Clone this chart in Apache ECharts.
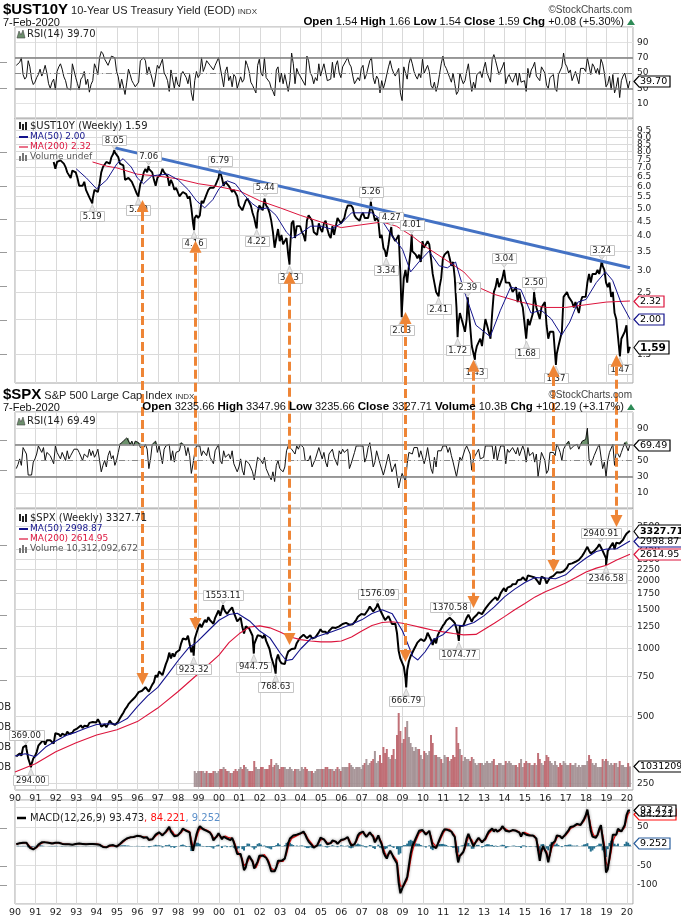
<!DOCTYPE html>
<html><head><meta charset="utf-8">
<script src="https://cdn.jsdelivr.net/npm/echarts@6/dist/echarts.min.js"></script>
<style>html,body{margin:0;padding:0;background:#fff}#c{width:681px;height:918px}</style>
</head><body><div id="c"></div>
<script>
// ---------------- DATA (monthly, read/estimated from the picture) ----------------
const spxClose = [
329,331,339,331,361,358,356,323,306,304,322,330,
344,367,375,375,390,371,388,395,388,392,375,417,
409,413,404,415,415,408,424,414,418,419,431,436,
439,443,452,440,450,451,448,464,459,468,462,466,
482,467,446,451,457,444,458,475,463,472,454,459,
470,487,501,515,533,545,562,562,584,582,605,616,
636,640,645,654,669,671,640,652,687,705,757,741,
786,791,757,801,848,885,954,899,947,915,955,970,
980,1049,1102,1112,1091,1134,1121,957,1017,1099,1164,1229,
1280,1238,1286,1335,1302,1373,1329,1320,1283,1363,1389,1469,
1394,1366,1499,1452,1421,1455,1431,1518,1437,1429,1315,1320,
1366,1240,1160,1249,1256,1224,1211,1134,1041,1060,1139,1148,
1130,1107,1147,1076,1067,990,912,916,815,886,936,880,
856,841,848,917,964,975,990,1008,996,1051,1058,1112,
1131,1145,1126,1107,1121,1141,1102,1104,1115,1130,1174,1212,
1181,1204,1181,1157,1192,1191,1234,1220,1229,1207,1249,1248,
1280,1281,1295,1311,1270,1270,1277,1304,1336,1378,1401,1418,
1438,1407,1421,1482,1531,1503,1455,1474,1527,1549,1481,1468,
1379,1331,1323,1386,1400,1280,1267,1283,1166,969,896,903,
826,735,798,873,919,919,987,1021,1057,1036,1096,1115,
1074,1104,1169,1187,1089,1031,1102,1049,1141,1183,1181,1258,
1286,1327,1326,1364,1345,1321,1292,1219,1131,1253,1247,1258,
1312,1366,1408,1398,1310,1362,1379,1407,1441,1412,1416,1426,
1498,1515,1569,1598,1631,1606,1686,1633,1682,1757,1806,1848,
1783,1859,1872,1884,1924,1960,1931,2003,1972,2018,2068,2059,
1995,2105,2068,2086,2107,2063,2104,1972,1920,2079,2080,2044,
1940,1932,2060,2065,2097,2099,2174,2171,2168,2126,2199,2239,
2279,2364,2363,2384,2412,2423,2470,2472,2519,2575,2648,2674,
2824,2714,2641,2648,2705,2718,2816,2902,2914,2712,2760,2507,
2704,2784,2834,2946,2752,2942,2980,2926,2977,3038,3141,3231,
3226,3327.71];

// weekly extremes labelled on the picture: [time, value, above?]
const spxExtremes = [
[1990.54,369.00,1],[1990.78,294.00,0],[1998.76,923.32,0],[2000.20,1553.11,1],
[2001.71,944.75,0],[2002.78,768.63,0],[2007.78,1576.09,1],[2009.18,666.79,0],
[2011.33,1370.58,1],[2011.76,1074.77,0],[2018.72,2940.91,1],[2018.98,2346.58,0]];

const spxMa50 = [[1990.0,330],[1990.5,338],[1991.0,328],[1991.5,362],[1992.0,385],[1992.5,408],[1993.0,422],[1993.5,440],[1994.0,456],[1994.5,460],[1995.0,458],[1995.5,485],[1996.0,548],[1996.5,612],[1997.0,668],[1997.5,765],[1998.0,880],[1998.5,1000],[1998.9,1060],[1999.5,1200],[2000.0,1330],[2000.5,1410],[2000.9,1430],[2001.5,1320],[2002.0,1190],[2002.5,1110],[2003.0,950],[2003.3,880],[2003.6,890],[2004.0,990],[2004.5,1100],[2005.0,1140],[2005.5,1180],[2006.0,1225],[2006.5,1275],[2007.0,1335],[2007.5,1425],[2008.0,1480],[2008.5,1420],[2009.0,1190],[2009.5,920],[2009.75,885],[2010.1,960],[2010.5,1090],[2011.0,1150],[2011.5,1270],[2012.0,1255],[2012.5,1300],[2013.0,1395],[2013.5,1525],[2014.0,1690],[2014.5,1830],[2015.0,1960],[2015.5,2060],[2016.0,2050],[2016.5,2035],[2017.0,2120],[2017.5,2330],[2018.0,2520],[2018.5,2690],[2019.0,2760],[2019.5,2770],[2020.15,2998.87]];

const spxMa200 = [[1990.0,280],[1991.0,305],[1992.0,345],[1993.0,378],[1994.0,410],[1995.0,432],[1996.0,470],[1997.0,540],[1998.0,640],[1999.0,770],[2000.0,930],[2000.5,1060],[2001.0,1160],[2001.5,1240],[2002.0,1255],[2002.5,1230],[2003.0,1180],[2003.5,1120],[2004.0,1090],[2004.5,1075],[2005.0,1065],[2005.5,1065],[2006.0,1075],[2006.5,1120],[2007.0,1190],[2007.5,1260],[2008.0,1300],[2008.5,1310],[2009.0,1290],[2009.5,1260],[2010.0,1230],[2010.5,1200],[2011.0,1180],[2011.5,1160],[2012.0,1145],[2012.6,1150],[2013.0,1210],[2013.5,1290],[2014.0,1380],[2014.5,1480],[2015.0,1580],[2015.5,1690],[2016.0,1780],[2016.5,1860],[2017.0,1950],[2017.5,2060],[2018.0,2180],[2018.5,2270],[2019.0,2340],[2019.5,2470],[2020.15,2614.95]];

// 10-year yield, monthly from Nov 1991
const ustStartMonth = 22;
const ustClose = [
7.3,6.9,
7.3,7.2,7.4,7.4,7.2,7.0,6.7,6.6,6.4,6.8,6.9,6.7,
6.4,6.0,6.0,6.0,6.2,5.8,5.8,5.45,5.4,5.4,5.8,5.8,
5.7,6.1,6.7,7.0,7.1,7.3,7.2,7.2,7.6,7.8,7.9,7.8,
7.6,7.2,7.2,7.1,6.3,6.2,6.4,6.3,6.2,6.0,5.8,5.6,
5.6,6.1,6.3,6.7,6.9,6.7,6.9,7.0,6.7,6.3,6.0,6.4,
6.5,6.6,6.9,6.7,6.7,6.5,6.0,6.3,6.1,5.8,5.9,5.7,
5.5,5.6,5.7,5.7,5.6,5.4,5.5,5.0,4.4,4.6,4.7,4.6,
4.7,5.3,5.2,5.4,5.6,5.8,5.9,5.9,5.9,6.0,6.2,6.4,
6.7,6.4,6.0,6.2,6.3,6.0,6.0,5.7,5.8,5.8,5.5,5.1,
5.1,4.9,4.9,5.3,5.4,5.4,5.1,4.8,4.6,4.3,4.8,5.1,
5.0,4.9,5.4,5.1,5.0,4.8,4.5,4.1,3.6,3.9,4.2,3.8,
4.0,3.7,3.8,3.9,3.4,3.5,4.4,4.5,3.9,4.3,4.3,4.3,
4.1,4.0,3.8,4.5,4.7,4.6,4.5,4.1,4.1,4.0,4.4,4.2,
4.1,4.4,4.5,4.2,4.0,3.9,4.3,4.0,4.3,4.6,4.5,4.4,
4.5,4.6,4.9,5.1,5.1,5.1,5.0,4.7,4.6,4.6,4.5,4.7,
4.8,4.6,4.6,4.6,4.9,5.0,4.8,4.5,4.6,4.5,3.9,4.0,
3.6,3.5,3.4,3.7,4.1,4.0,4.0,3.8,3.8,4.0,2.9,2.2,
2.8,3.0,2.7,3.1,3.5,3.5,3.5,3.4,3.3,3.4,3.2,3.8,
3.6,3.6,3.8,3.7,3.3,2.9,2.9,2.5,2.5,2.6,2.8,3.3,
3.4,3.4,3.5,3.3,3.1,3.2,2.8,2.2,1.9,2.1,2.1,1.9,
1.8,2.0,2.2,1.9,1.6,1.6,1.5,1.6,1.6,1.7,1.6,1.8,
2.0,1.9,1.9,1.7,2.1,2.5,2.6,2.8,2.6,2.6,2.8,3.0,
2.7,2.7,2.7,2.6,2.5,2.5,2.6,2.3,2.5,2.3,2.2,2.2,
1.7,2.0,1.9,2.0,2.1,2.4,2.2,2.2,2.0,2.2,2.2,2.3,
1.9,1.7,1.8,1.8,1.8,1.5,1.5,1.6,1.6,1.8,2.4,2.4,
2.5,2.4,2.4,2.3,2.2,2.3,2.3,2.1,2.3,2.4,2.4,2.4,
2.7,2.9,2.7,2.9,2.9,2.9,3.0,2.9,3.1,3.1,3.0,2.7,
2.6,2.7,2.4,2.5,2.1,2.0,2.0,1.5,1.7,1.7,1.8,1.9,
1.51,1.59];

const ustExtremes = [
[1993.79,5.19,0],[1994.87,8.05,1],[1996.05,5.49,0],[1996.55,7.06,1],[1998.78,4.16,0],
[2000.04,6.79,1],[2001.85,4.22,0],[2002.27,5.44,1],[2003.46,3.13,0],[2007.45,5.26,1],
[2008.20,3.34,0],[2008.45,4.27,1],[2008.96,2.03,0],[2009.45,4.01,1],[2010.77,2.41,0],
[2011.70,1.72,0],[2012.20,2.39,1],[2012.55,1.43,0],[2013.98,3.04,1],[2015.08,1.68,0],
[2015.45,2.50,1],[2016.52,1.37,0],[2018.77,3.24,1],[2019.66,1.47,0]];

const ustMa50 = [[1993.0,6.9],[1993.5,6.4],[1994.0,5.85],[1994.5,6.3],[1995.0,7.2],[1995.3,7.5],[1995.7,7.0],[1996.0,6.4],[1996.3,6.1],[1996.7,6.5],[1997.0,6.55],[1997.5,6.6],[1998.0,6.3],[1998.5,5.8],[1998.9,5.3],[1999.3,5.0],[1999.7,5.35],[2000.0,5.85],[2000.4,6.25],[2000.8,6.1],[2001.2,5.6],[2001.6,5.2],[2002.0,4.95],[2002.4,5.0],[2002.8,4.7],[2003.3,4.1],[2003.6,3.9],[2004.0,4.05],[2004.5,4.3],[2005.0,4.3],[2005.5,4.2],[2006.0,4.4],[2006.5,4.8],[2007.0,4.8],[2007.5,4.8],[2008.0,4.5],[2008.5,3.95],[2009.0,3.55],[2009.4,2.95],[2009.8,3.2],[2010.3,3.5],[2010.8,3.1],[2011.2,3.05],[2011.6,3.2],[2012.0,2.55],[2012.6,1.9],[2013.3,1.73],[2013.8,2.15],[2014.3,2.6],[2014.8,2.55],[2015.3,2.1],[2015.8,2.15],[2016.3,2.0],[2016.8,1.75],[2017.2,1.95],[2017.6,2.3],[2018.0,2.35],[2018.5,2.7],[2018.95,2.95],[2019.3,2.75],[2019.7,2.3],[2020.15,2.00]];

const ustMa200 = [[1993.8,7.3],[1994.5,7.05],[1995.0,6.95],[1996.0,6.6],[1997.0,6.5],[1998.0,6.35],[1999.0,6.1],[2000.0,5.95],[2001.0,5.75],[2002.0,5.3],[2003.0,5.0],[2004.0,4.7],[2005.0,4.45],[2006.0,4.25],[2007.0,4.35],[2008.0,4.45],[2008.7,4.3],[2009.5,3.95],[2010.2,3.6],[2011.0,3.3],[2012.0,2.95],[2012.7,2.6],[2013.5,2.45],[2014.8,2.3],[2016.0,2.2],[2017.0,2.2],[2018.0,2.25],[2019.0,2.3],[2020.15,2.32]];

const rsiUst = [
60,62,64,70,48,42,45,66,58,42,35,38,
44,48,55,46,52,60,50,36,30,38,42,28,
52,58,62,55,45,40,30,32,28,62,60,44,
36,28,42,45,52,35,42,25,35,40,62,56,
48,70,78,75,68,70,60,58,72,74,70,52,
45,30,42,40,22,38,55,48,40,36,32,30,
38,66,65,70,66,48,58,60,42,32,34,60,
56,54,68,50,46,40,26,54,42,30,45,35,
32,48,52,50,44,36,48,24,14,40,52,44,
48,70,52,58,66,68,60,58,54,60,62,70,
72,45,32,52,58,40,46,32,48,45,30,28,
45,38,42,66,60,52,38,34,32,24,60,68,
50,46,70,44,42,38,30,26,20,54,58,38,
50,36,48,50,26,40,76,62,36,56,50,48,
42,40,34,72,66,50,46,36,44,40,62,46,
46,62,60,40,38,42,64,44,60,66,50,44,
58,60,66,70,62,58,46,36,38,44,40,56,
60,42,48,50,66,70,44,36,46,42,24,40,
30,38,36,58,66,56,50,46,44,56,24,14,
58,60,42,62,70,62,52,46,42,50,44,68,
50,48,60,52,34,30,38,26,34,48,62,72,
60,56,58,44,38,50,36,22,26,50,42,36,
40,52,62,42,26,38,30,48,50,52,44,56,
64,50,48,38,68,74,66,68,48,46,58,64,
36,44,48,42,38,44,50,34,50,38,40,40,
26,56,44,54,58,64,46,46,40,58,54,50,
34,30,44,46,48,30,26,48,46,58,76,62,
58,50,54,40,42,52,52,36,56,58,56,52,
70,68,48,62,58,50,56,48,68,62,50,32,
36,46,28,48,24,32,44,18,40,46,50,48,
30,39.70];

const rsiSpx = [
40,45,52,44,66,62,58,32,30,32,48,52,
58,68,66,60,66,50,60,62,56,58,46,68,
60,62,52,60,58,50,62,52,56,56,64,66,
64,60,62,50,58,56,54,64,56,62,54,58,
64,50,36,44,50,42,56,62,52,56,44,50,
60,70,72,74,76,78,78,70,74,68,74,76,
72,66,64,66,70,64,40,52,70,70,74,60,
68,66,46,64,68,69,70,50,62,48,60,60,
62,72,74,68,56,66,56,34,46,60,68,70,
68,56,62,64,56,66,54,52,46,62,64,70,
50,46,62,54,52,58,52,62,46,46,36,42,
52,38,32,50,50,46,44,36,26,40,54,54,
50,46,54,40,40,30,26,36,24,44,50,40,
38,36,42,62,68,66,64,66,58,68,64,70,
68,66,50,48,50,56,42,44,52,54,66,68,
52,60,48,42,58,56,64,54,56,44,62,58,
64,60,62,64,40,46,48,60,68,69,68,69,
68,48,54,66,72,58,42,48,62,64,46,48,
32,40,38,58,56,36,38,46,30,16,26,34,
36,24,46,60,62,58,66,64,66,54,62,62,
46,54,66,66,40,34,54,42,62,64,62,68,
68,68,60,66,56,48,46,30,28,54,50,52,
64,68,68,58,38,52,56,60,64,52,52,54,
68,66,68,66,68,52,68,50,60,68,69,68,
46,64,60,60,66,68,58,66,56,58,68,62,
48,66,56,58,60,48,58,30,32,60,58,50,
34,38,60,58,60,56,70,66,60,50,64,68,
68,74,64,66,68,68,70,64,70,74,76,76,
90,52,44,50,56,56,66,70,68,40,48,30,
50,60,60,70,44,62,64,54,60,66,72,74,
62,69.49];

// weekly volume (billions), one bar per month from Oct 1998
const volStartMonth = 105;
const spxVolume = [
8,7,8,
8,8,8,7,8,7,7,7,8,8,7,8,
9,9,10,9,8,8,7,7,8,9,8,9,
10,9,11,10,9,8,8,8,13,10,9,9,
10,10,9,9,9,11,14,10,11,12,11,9,
10,10,10,9,9,10,9,8,9,9,9,8,
10,9,10,9,8,8,8,7,8,9,9,9,
9,9,10,10,9,9,9,8,9,10,9,8,
10,10,10,10,12,11,10,9,10,10,10,9,
11,12,14,11,12,13,14,18,12,13,16,12,
20,17,19,15,14,16,19,14,26,37,28,22,
24,30,33,25,22,20,18,20,19,19,16,14,
18,17,16,18,26,22,16,16,15,15,14,12,
16,15,15,13,14,16,15,30,22,19,16,13,
15,14,14,13,15,14,12,11,12,12,12,11,
12,13,12,12,13,14,11,11,12,12,11,11,
13,12,13,12,11,11,11,10,12,14,10,12,
13,12,12,11,11,12,11,17,14,12,11,13,
16,15,13,12,11,13,11,10,12,11,13,12,
11,11,12,11,11,12,10,11,10,11,11,11,
13,16,14,12,11,12,10,10,10,14,13,14,
13,11,12,11,12,12,10,13,11,11,10,10,
12,10.31];
const volTicks = [10,20,30,40];

const macd = [
5,8,8,6,9,10,9,2,-4,-8,-8,-6,
-2,4,8,10,11,10,10,9,8,7,6,9,
10,9,8,6,6,5,6,5,4,4,5,6,
7,7,7,6,6,5,5,6,5,6,5,5,
6,4,0,-2,-2,-3,-1,2,2,3,0,-1,
2,6,10,14,18,20,23,23,24,24,25,27,
28,26,24,22,24,23,16,14,18,22,30,32,
36,38,28,30,38,42,50,38,36,26,26,28,
30,38,46,48,40,40,36,5,-12,10,30,44,
52,48,44,46,40,38,35,28,15,18,26,34,
30,18,25,28,20,22,16,22,10,-5,-20,-25,
-20,-40,-62,-55,-35,-25,-30,-40,-58,-60,-40,-25,
-22,-24,-20,-30,-38,-50,-65,-62,-65,-55,-38,-35,
-38,-40,-32,-12,8,20,25,28,25,30,30,33,
37,38,30,20,12,10,2,-4,0,2,12,22,
20,18,12,5,5,8,15,15,12,6,10,16,
18,18,20,24,12,2,-2,5,15,28,34,36,
38,30,24,28,36,38,24,10,18,28,15,5,
-15,-25,-32,-20,-12,-20,-30,-25,-45,-95,-122,-110,
-100,-95,-80,-50,-20,0,10,20,30,40,42,42,
38,30,34,40,20,0,2,-5,6,18,28,38,
44,48,42,44,38,30,24,-15,-42,-25,-20,-15,
0,20,32,30,10,0,8,16,22,18,10,8,
20,30,38,40,46,38,44,38,38,44,52,56,
40,38,38,38,42,45,40,38,35,25,35,38,
30,32,28,26,28,26,20,-10,-38,-10,0,-2,
-20,-42,-20,5,10,14,28,30,26,20,22,30,
34,42,50,50,52,54,58,55,55,60,70,80,
95,70,40,25,20,22,30,45,55,20,-10,-68,
-60,-30,0,30,30,30,45,40,38,40,55,80,
92,93.473];

const lastValues = {ust:1.59, ustMa50:2.00, ustMa200:2.32, rsiUst:39.70, rsiSpx:69.49,
  spx:3327.71, spxMa50:2998.87, spxMa200:2614.95, vol:10.31, macd:93.473, signal:84.221, hist:9.252};

const ustTicks = [1.5,2.0,2.5,3.0,3.5,4.0,4.5,5.0,5.5,6.0,6.5,7.0,7.5,8.0,8.5,9.0,9.5];
const spxTicks = [250,500,750,1000,1250,1500,1750,2000,2250,2500,2750,3500];
// cut-off left-edge tick marks (pixel rows of the truncated left axes)
const leftTickRows = [62,88,152,186,219,252,286,320,354,440,470,545,580,615,648,680,828,866,885];

// arrows: [time, UST value at head, SPX value at head]
const arrows = [[1996.23,5.34,684],[1998.82,3.81,1203],[2003.43,2.95,1031],[2009.12,2.12,866],[2012.45,1.43,1507],[2016.37,1.37,2180],[2019.46,1.49,3458]];
const trendLine = [[1994.9,8.2],[2020.15,3.05]];

// ---------------- BUILD ----------------
function monthT(i){ return 1990 + (i + 0.75) / 12; }
function pairs(arr, start){ return arr.map((v,k)=>[monthT(start+k), v]); }
function merged(a, ex){ return a.concat(ex.map(e=>[e[0],e[1]])).sort((p,q)=>p[0]-q[0]); }
function yr(v){ const r=Math.round(v); if(Math.abs(v-r)>1e-6) return ''; return String(((r%100)+100)%100).padStart(2,'0'); }

const ustData = merged(pairs(ustClose, ustStartMonth), ustExtremes);
const spxData = merged(pairs(spxClose, 0), spxExtremes);

const chart = echarts.init(document.getElementById('c'));
const L = 15, R = 48;
const grids = [
  {left:L,right:R,top:27,height:92},
  {left:L,right:R,top:118,height:265},
  {left:L,right:R,top:412,height:97},
  {left:L,right:R,top:508,height:282},
  {left:L,right:R,top:699,height:88},
  {left:L,right:R,top:800,height:105}
];
const axFont = {fontFamily:'DejaVu Sans', fontSize:9, color:'#222'};
const rsiAxis = (g)=>({type:'value', gridIndex:g, min:-10, max:110, interval:20, position:'right',
  axisLine:{show:false}, axisTick:{show:false}, splitLine:{show:true, lineStyle:{color:'#e2e2e2'}},
  axisLabel:Object.assign({margin:4, formatter:v=>(v>=10&&v<=90)?String(v):''}, axFont)});
const hidden = (g,type,min,max)=>({type, gridIndex:g, min, max, position:'right', logBase:10,
  axisLine:{show:false}, axisTick:{show:false}, axisLabel:{show:false}, splitLine:{show:false}});

const rsiLines = {silent:true, symbol:['none','none'], label:{show:false}, animation:false,
  data:[{yAxis:70, lineStyle:{color:'#7c7c7c',width:1.5,type:'solid'}},
        {yAxis:30, lineStyle:{color:'#7c7c7c',width:1.5,type:'solid'}},
        {yAxis:50, lineStyle:{color:'#8a8a8a',width:1,type:[6,3,1,3]}}]};

// MACD signal = 9-week EMA of MACD (about 2 months here)
const alpha = 0.62;
const signal = []; macd.forEach((v,i)=>signal.push(i===0? v : signal[i-1] + alpha*(v - signal[i-1])));
const hist = macd.map((v,i)=>v - signal[i]);

const volData = spxVolume.map((v,k)=>{
  const i = volStartMonth + k;
  const down = spxClose[i] < spxClose[i-1];
  return {value:[monthT(i), v], itemStyle:{color: down ? 'rgba(186,96,104,0.9)' : 'rgba(160,140,143,0.9)'}};
});

const option = {
  animation:false, backgroundColor:'#fff',
  grid: grids.map((g,i)=>Object.assign({show:i!==4, borderColor:'#a4a4a4', borderWidth:1, backgroundColor:'rgba(0,0,0,0)'}, g)),
  xAxis: grids.map((g,i)=>({type:'value', gridIndex:i, min:1990, max:2020.3, interval:1,
    axisLine:{show:false}, axisTick:{show:false},
    axisLabel:Object.assign({show:(i===3||i===5), formatter:yr, margin:4}, axFont, {fontSize:9.5}),
    splitLine:{show:i!==4, lineStyle:{color:'#d9d9d9'}}})),
  yAxis: [
    rsiAxis(0),
    hidden(1,'log',1.18,10.49),
    rsiAxis(2),
    hidden(3,'log',233,4207),
    hidden(4,'value',0,44),
    {type:'value', gridIndex:5, min:-150, max:120, interval:50, position:'right',
      axisLine:{show:false}, axisTick:{show:false}, splitLine:{show:true, lineStyle:{color:'#dedede'}},
      axisLabel:Object.assign({margin:4, formatter:v=>(v>=-100&&v<=50)?String(v):''}, axFont)}
  ],
  series: [
    {type:'line', xAxisIndex:0, yAxisIndex:0, data:pairs(rsiUst,0), symbol:'none', lineStyle:{color:'#111',width:1}, z:3, markLine:rsiLines},
    {type:'line', xAxisIndex:1, yAxisIndex:1, data:ustData, symbol:'none', lineStyle:{color:'#000',width:1.9}, z:3},
    {type:'line', xAxisIndex:1, yAxisIndex:1, data:ustMa200, symbol:'none', lineStyle:{color:'#dc143c',width:1}, z:4},
    {type:'line', xAxisIndex:1, yAxisIndex:1, data:ustMa50, symbol:'none', lineStyle:{color:'#14148c',width:1}, z:5,
      markLine:{silent:true, symbol:['none','none'], label:{show:false}, animation:false,
        lineStyle:{color:'#4472c4', width:3, type:'solid'},
        data:[[{coord:trendLine[0]},{coord:trendLine[1]}]]}},
    {type:'line', xAxisIndex:2, yAxisIndex:2, data:pairs(rsiSpx,0).map(p=>[p[0], Math.max(p[1],70)]), symbol:'none',
      lineStyle:{width:0}, areaStyle:{origin:70, color:'#648c64', opacity:0.95}, z:2},
    {type:'line', xAxisIndex:2, yAxisIndex:2, data:pairs(rsiSpx,0), symbol:'none', lineStyle:{color:'#111',width:1}, z:3, markLine:rsiLines},
    {type:'bar', xAxisIndex:4, yAxisIndex:4, data:volData, barWidth:2, z:1},
    {type:'line', xAxisIndex:3, yAxisIndex:3, data:spxData, symbol:'none', lineStyle:{color:'#000',width:2}, z:3},
    {type:'line', xAxisIndex:3, yAxisIndex:3, data:spxMa200, symbol:'none', lineStyle:{color:'#dc143c',width:1.1}, z:4},
    {type:'line', xAxisIndex:3, yAxisIndex:3, data:spxMa50, symbol:'none', lineStyle:{color:'#14148c',width:1.1}, z:5},
    {type:'bar', xAxisIndex:5, yAxisIndex:5, data:pairs(hist,0), barWidth:2, itemStyle:{color:'#246f8e'}, z:2},
    {type:'line', xAxisIndex:5, yAxisIndex:5, data:pairs(signal,0), symbol:'none', lineStyle:{color:'#ff1010',width:1.2}, z:3},
    {type:'line', xAxisIndex:5, yAxisIndex:5, data:pairs(macd,0), symbol:'none',
      lineStyle:{color:'#000',width:2, shadowColor:'rgba(0,0,0,0.45)', shadowBlur:3}, z:4}
  ]
};
chart.setOption(option);

// ---------------- ANNOTATIONS ----------------
const els = [];
const mctx = document.createElement('canvas').getContext('2d');
function tw(t, f){ mctx.font = f; return mctx.measureText(t).width; }
function px(g, t, v){ return chart.convertToPixel({gridIndex:g}, [t, v]); }
function txt(x, y, text, font, fill, align, va, z){
  els.push({type:'text', x, y, z:z||50, silent:true, style:{text, font, fill, align:align||'left', verticalAlign:va||'middle', textAlign:align||'left', textVerticalAlign:va||'middle'}});
}
function rich(x, y, text, richDef, base, align){
  els.push({type:'text', x, y, z:50, silent:true, style:Object.assign({text, rich:richDef, align, textAlign:align, verticalAlign:'bottom', textVerticalAlign:'bottom'}, base)});
}
const gx0 = L, gx1 = 681 - R;

// log-axis grid lines and labels
function logTicks(g, ticks, fmt){
  ticks.forEach(v=>{
    const y = Math.round(px(g, 2000, v)[1]) + 0.5;
    els.push({type:'line', z:1, silent:true, shape:{x1:gx0, y1:y, x2:gx1, y2:y}, style:{stroke:'#dadada', lineWidth:1}});
    txt(gx1 + 4, y, fmt(v), '9px "DejaVu Sans"', '#222', 'left', 'middle', 5);
  });
}
logTicks(1, ustTicks, v=>v.toFixed(1));
logTicks(3, spxTicks, v=>String(v));

// truncated left volume axis labels
volTicks.forEach(v=>{ const y = px(4, 2000, v)[1]; txt(11, y, v + 'B', '10px "DejaVu Sans"', '#222', 'right', 'middle', 5); });
leftTickRows.forEach(y=>els.push({type:'line', z:1, silent:true, shape:{x1:0, y1:y+0.5, x2:7, y2:y+0.5}, style:{stroke:'#9a9a9a', lineWidth:1}}));

// extreme value labels
const lblFont = '8.5px "DejaVu Sans"';
function extLabel(g, e){
  const p = px(g, e[0], e[1]); const above = e[2] === 1;
  const text = e[1].toFixed(2);
  const w = Math.round(tw(text, lblFont) + 5), h = 10;
  const cy = above ? p[1] - 10 : p[1] + 13;
  const edge = above ? cy + h/2 : cy - h/2;
  els.push({type:'polygon', z:20, silent:true, shape:{points:[[p[0]-3, edge],[p[0]+3, edge],[p[0], above ? p[1]-1 : p[1]+1]]}, style:{fill:'#e6e6e6', stroke:'#c2c2c2', lineWidth:0.8}});
  els.push({type:'rect', z:21, silent:true, shape:{x:Math.round(p[0]-w/2)+0.5, y:Math.round(cy-h/2)+0.5, width:w, height:h}, style:{fill:'#fff', stroke:'#c4c4c4', lineWidth:1}});
  txt(p[0], cy+0.5, text, lblFont, '#222', 'center', 'middle', 22);
}
ustExtremes.forEach(e=>extLabel(1, e));
spxExtremes.forEach(e=>extLabel(3, e));

// right-side value tags
function tag(g, v, text, color, bold, fontSpec, pad){
  const y = Math.round(px(g, 2020, v)[1]) + 0.5;
  const font = fontSpec || ((bold ? 'bold 10.5px' : '9.5px') + ' "DejaVu Sans"');
  const w = Math.round(tw(text, font) + (pad || 9)), h = bold ? 13 : 11, x0 = gx1 + 1;
  els.push({type:'polygon', z:30, silent:true, shape:{points:[[x0,y],[x0+5,y-h/2],[x0+w,y-h/2],[x0+w,y+h/2],[x0+5,y+h/2]]}, style:{fill:'#fff', stroke:color, lineWidth:1.2}});
  txt(x0 + 6, y + 0.5, text, font, '#000', 'left', 'middle', 31);
}
tag(0, lastValues.rsiUst, '39.70', '#000', false);
tag(1, lastValues.ustMa200, '2.32', '#dc143c', false);
tag(1, lastValues.ustMa50, '2.00', '#14148c', false);
tag(1, lastValues.ust, '1.59', '#000', true);
tag(2, lastValues.rsiSpx, '69.49', '#000', false);
tag(3, lastValues.spxMa200, '2614.95', '#dc143c', false);
tag(3, lastValues.spxMa50, '2998.87', '#14148c', false);
tag(3, lastValues.spx, '3327.71', '#000', true, 'bold 9.5px "DejaVu Sans"', 7);
tag(4, lastValues.vol, '1031209', '#000', false);
tag(5, lastValues.hist, '9.252', '#2a5f9e', false);
tag(5, lastValues.signal, '84.221', '#ff1010', false);
tag(5, lastValues.macd, '93.473', '#000', false);

// orange arrows
const ac = '#ee8536';
arrows.forEach(a=>{
  const pu = px(1, a[0], a[1]), ps = px(3, a[0], a[2]);
  const x = Math.round(pu[0]) + 0.5, hl = 12, hw = 6;
  els.push({type:'line', z:40, silent:true, shape:{x1:x, y1:pu[1]+hl, x2:x, y2:ps[1]-hl}, style:{stroke:ac, lineWidth:3, lineDash:[9,4]}});
  els.push({type:'polygon', z:40, silent:true, shape:{points:[[x,pu[1]],[x-hw,pu[1]+hl],[x+hw,pu[1]+hl]]}, style:{fill:ac}});
  els.push({type:'polygon', z:40, silent:true, shape:{points:[[x,ps[1]],[x-hw,ps[1]-hl],[x+hw,ps[1]-hl]]}, style:{fill:ac}});
});

// headers
const hdrBase = {fontSize:11, fontFamily:'Liberation Sans', fill:'#111'};
const hdrRich = {b:{fontWeight:'bold', fontSize:11.5, fontFamily:'Liberation Sans', fill:'#000'}};
function header(yTop, sym, name, ohlc){
  const tf = 'bold 15px "Liberation Sans"';
  txt(3, yTop + 13, sym, tf, '#000', 'left', 'bottom');
  const x1 = 3 + tw(sym, tf) + 3;
  txt(x1, yTop + 12, name, '11px "Liberation Sans"', '#222', 'left', 'bottom');
  txt(x1 + tw(name, '11px "Liberation Sans"') + 3, yTop + 12, 'INDX', '8px "Liberation Sans"', '#333', 'left', 'bottom');
  txt(632, yTop + 6, '\u00A9StockCharts.com', '10px "Liberation Sans"', '#444', 'right', 'middle');
  txt(3, yTop + 24, '7-Feb-2020', '11px "Liberation Sans"', '#111', 'left', 'bottom');
  rich(624, yTop + 24, ohlc, hdrRich, hdrBase, 'right');
  els.push({type:'polygon', z:50, silent:true, shape:{points:[[627,yTop+21],[635,yTop+21],[631,yTop+15]]}, style:{fill:'#2e8b57'}});
}
header(4, '$UST10Y', '10-Year US Treasury Yield (EOD)', '{b|Open} 1.54 {b|High} 1.66 {b|Low} 1.54 {b|Close} 1.59 {b|Chg} +0.08 (+5.30%)');
header(389, '$SPX', 'S&P 500 Large Cap Index', '{b|Open} 3235.66 {b|High} 3347.96 {b|Low} 3235.66 {b|Close} 3327.71 {b|Volume} 10.3B {b|Chg} +102.19 (+3.17%)');

// panel legends
const lf = '10px "DejaVu Sans"', lf2 = '9px "DejaVu Sans"';
function mountain(x, y){ els.push({type:'polygon', z:50, silent:true, shape:{points:[[x,y+4],[x+2,y-3],[x+4,y+1],[x+6,y-4],[x+8,y+4]]}, style:{fill:'#6d8f6d', stroke:'#444', lineWidth:0.6}}); }
function candle(x, y){
  [[x,y-4,2,7],[x+3,y-2,2,6],[x+6,y-4,2,8]].forEach(r=>els.push({type:'rect', z:50, silent:true, shape:{x:r[0],y:r[1],width:r[2],height:r[3]}, style:{fill:'#222'}}));
}
function dash(x, y, color, w){ els.push({type:'line', z:50, silent:true, shape:{x1:x, y1:y, x2:x+9, y2:y}, style:{stroke:color, lineWidth:w||2}}); }
function volIcon(x, y){
  [[x,y-1,2,5],[x+3,y-4,2,8],[x+6,y-2,2,6]].forEach(r=>els.push({type:'rect', z:50, silent:true, shape:{x:r[0],y:r[1],width:r[2],height:r[3]}, style:{fill:'#777'}}));
}
mountain(17, 34); txt(27, 34, 'RSI(14) 39.70', lf, '#222');
candle(19, 126); txt(30, 126, '$UST10Y (Weekly) 1.59', lf, '#222');
dash(19, 137, '#14148c'); txt(30, 137, 'MA(50) 2.00', lf2, '#14148c');
dash(19, 147, '#dc143c', 1.2); txt(30, 147, 'MA(200) 2.32', lf2, '#dc143c');
volIcon(19, 157); txt(30, 157, 'Volume undef', lf2, '#555');
mountain(17, 421); txt(27, 421, 'RSI(14) 69.49', lf, '#222');
candle(19, 518); txt(30, 518, '$SPX (Weekly) 3327.71', lf, '#222');
dash(19, 529, '#14148c'); txt(30, 529, 'MA(50) 2998.87', lf2, '#14148c');
dash(19, 539, '#dc143c', 1.2); txt(30, 539, 'MA(200) 2614.95', lf2, '#dc143c');
volIcon(19, 549); txt(30, 549, 'Volume 10,312,092,672', lf2, '#555');
dash(17, 818, '#000', 2.5);
els.push({type:'text', x:30, y:818, z:50, silent:true, style:{text:'MACD(12,26,9) 93.473{r|, 84.221}{c|, 9.252}', fontSize:10, fontFamily:'DejaVu Sans', fill:'#222', align:'left', verticalAlign:'middle', textAlign:'left', textVerticalAlign:'middle',
  rich:{r:{fill:'#ff1010', fontSize:10, fontFamily:'DejaVu Sans'}, c:{fill:'#5b8fc9', fontSize:10, fontFamily:'DejaVu Sans'}}}});

chart.setOption({graphic:{elements:els}});
</script></body></html>
